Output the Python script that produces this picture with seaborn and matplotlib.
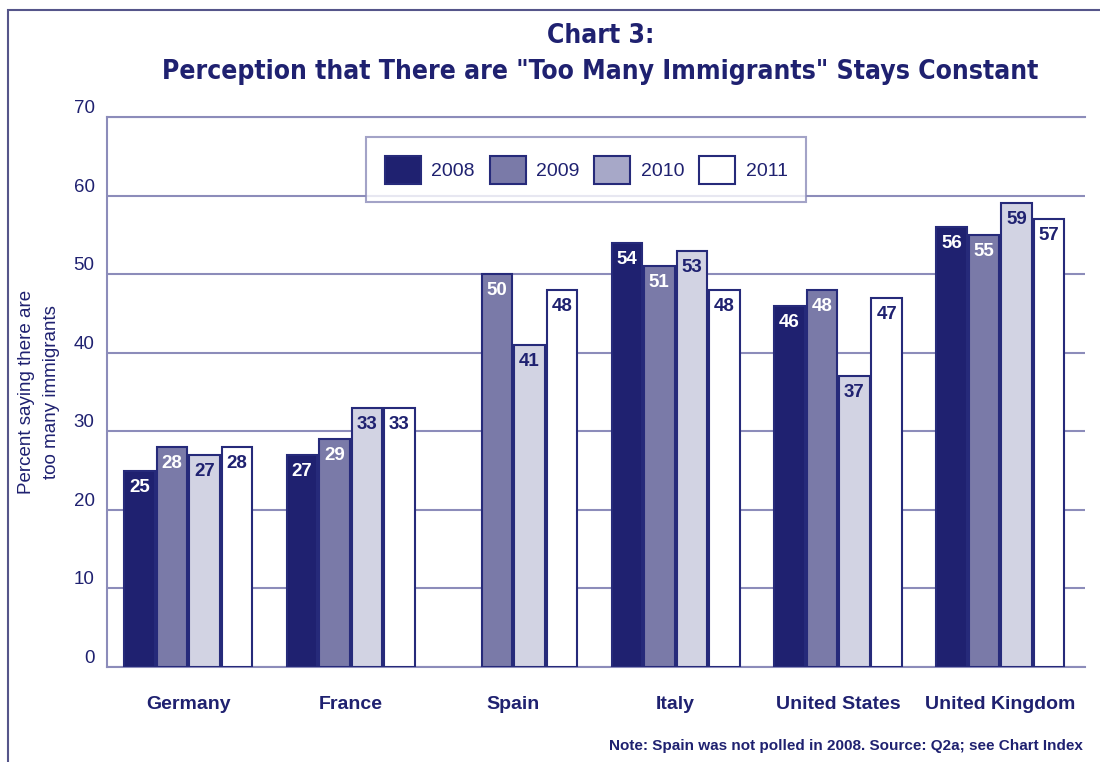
import numpy as np
import pandas as pd
import matplotlib.pyplot as plt
import matplotlib.patches as mpatches
import seaborn as sns
from matplotlib import font_manager

# data
countries = ["Germany", "France", "Spain", "Italy", "United States", "United Kingdom"]
years = ["2008", "2009", "2010", "2011"]
v2008 = [25, 27, np.nan, 54, 46, 56]   # Spain not polled in 2008
v2009 = [28, 29, 50, 51, 48, 55]
v2010 = [27, 33, 41, 53, 37, 59]
v2011 = [28, 33, 48, 48, 47, 57]
yticks = [0, 10, 20, 30, 40, 50, 60, 70]

navy = "#1f2170"
edge = "#262a7a"
grid = "#8c8cba"
bar_colors = ["#1f2170", "#7a7aa8", "#d2d3e3", "#ffffff"]
legend_colors = ["#1f2170", "#7a7aa8", "#a7a8c8", "#ffffff"]
label_colors = ["white", "white", navy, navy]

rows = []
for yr, vals in zip(years, [v2008, v2009, v2010, v2011]):
    for c, v in zip(countries, vals):
        rows.append({"country": c, "year": yr, "value": v})
df = pd.DataFrame(rows)

sns.set_style("white")
plt.rcParams["font.family"] = ["Liberation Sans", "DejaVu Sans"]

# a condensed bold face for the title, if one is installed
title_font = None
for f in font_manager.fontManager.ttflist:
    narrow = ("Condensed" in f.name or "Narrow" in f.name or "condensed" in str(f.stretch))
    wt = f.weight if isinstance(f.weight, int) else (700 if "bold" in str(f.weight) else 400)
    if narrow and wt >= 700 and "Italic" not in f.fname and "Oblique" not in f.fname:
        title_font = font_manager.FontProperties(fname=f.fname)
        break
if title_font is None:
    title_font = font_manager.FontProperties(family="Liberation Sans", weight="bold")

fig = plt.figure(figsize=(11, 7.62), dpi=100)
ax = fig.add_axes([0.0973, 0.1247, 0.889, 0.7218])

sns.barplot(data=df, x="country", y="value", hue="year", order=countries,
            hue_order=years, palette=bar_colors, saturation=1, edgecolor=edge,
            linewidth=1.5, width=0.8, gap=0.06, legend=False, ax=ax, zorder=3)

for i, cont in enumerate(ax.containers):
    ax.bar_label(cont, fmt="%d", padding=-18, color=label_colors[i],
                 fontsize=13.5, fontweight="bold")

ax.set_xlim(-0.5, 5.52)
ax.set_ylim(0, 70)
ax.set_yticks(yticks)
ax.set_yticklabels([str(t) for t in yticks], color=navy, fontsize=13.5, va="bottom")
ax.tick_params(axis="y", length=0, pad=9)
ax.tick_params(axis="x", length=0, pad=21)
for t in ax.get_xticklabels():
    t.set_color(navy)
    t.set_fontsize(14)
    t.set_fontweight("bold")
ax.set_xlabel("")
ax.set_ylabel("Percent saying there are\ntoo many immigrants", color=navy,
              fontsize=13.5, labelpad=10, linespacing=1.55)

ax.grid(axis="y", color=grid, linewidth=1.5, zorder=0)
ax.set_axisbelow(True)
for s in ["left", "bottom", "top"]:
    ax.spines[s].set_color(grid)
    ax.spines[s].set_linewidth(1.5)
ax.spines["right"].set_visible(False)

handles = [mpatches.Patch(facecolor=c, edgecolor=edge, linewidth=1.5) for c in legend_colors]
leg = ax.legend(handles, years, loc="upper center", bbox_to_anchor=(0.49, 0.981),
                ncol=4, frameon=True, fancybox=False, fontsize=14,
                handlelength=1.85, handleheight=1.85, handletextpad=0.55,
                columnspacing=0.75, borderpad=0.95, labelcolor=navy)
leg.get_frame().set_edgecolor(grid)
leg.get_frame().set_linewidth(1.5)

tf = title_font.copy()
tf.set_size(19)
fig.text(0.546, 0.953, "Chart 3:", ha="center", va="center", color=navy,
         fontproperties=tf)
fig.text(0.546, 0.905, 'Perception that There are "Too Many Immigrants" Stays Constant',
         ha="center", va="center", color=navy, fontproperties=tf)
fig.text(0.984, 0.021, "Note: Spain was not polled in 2008. Source: Q2a; see Chart Index",
         ha="right", va="center", color=navy, fontsize=11, fontweight="bold")

# outer frame
fig.patches.append(mpatches.Rectangle((0.007, -0.05), 1.2, 1.037, transform=fig.transFigure,
                                      fill=False, edgecolor="#55558a", linewidth=1.5))

fig.savefig("out.png", dpi=100)
